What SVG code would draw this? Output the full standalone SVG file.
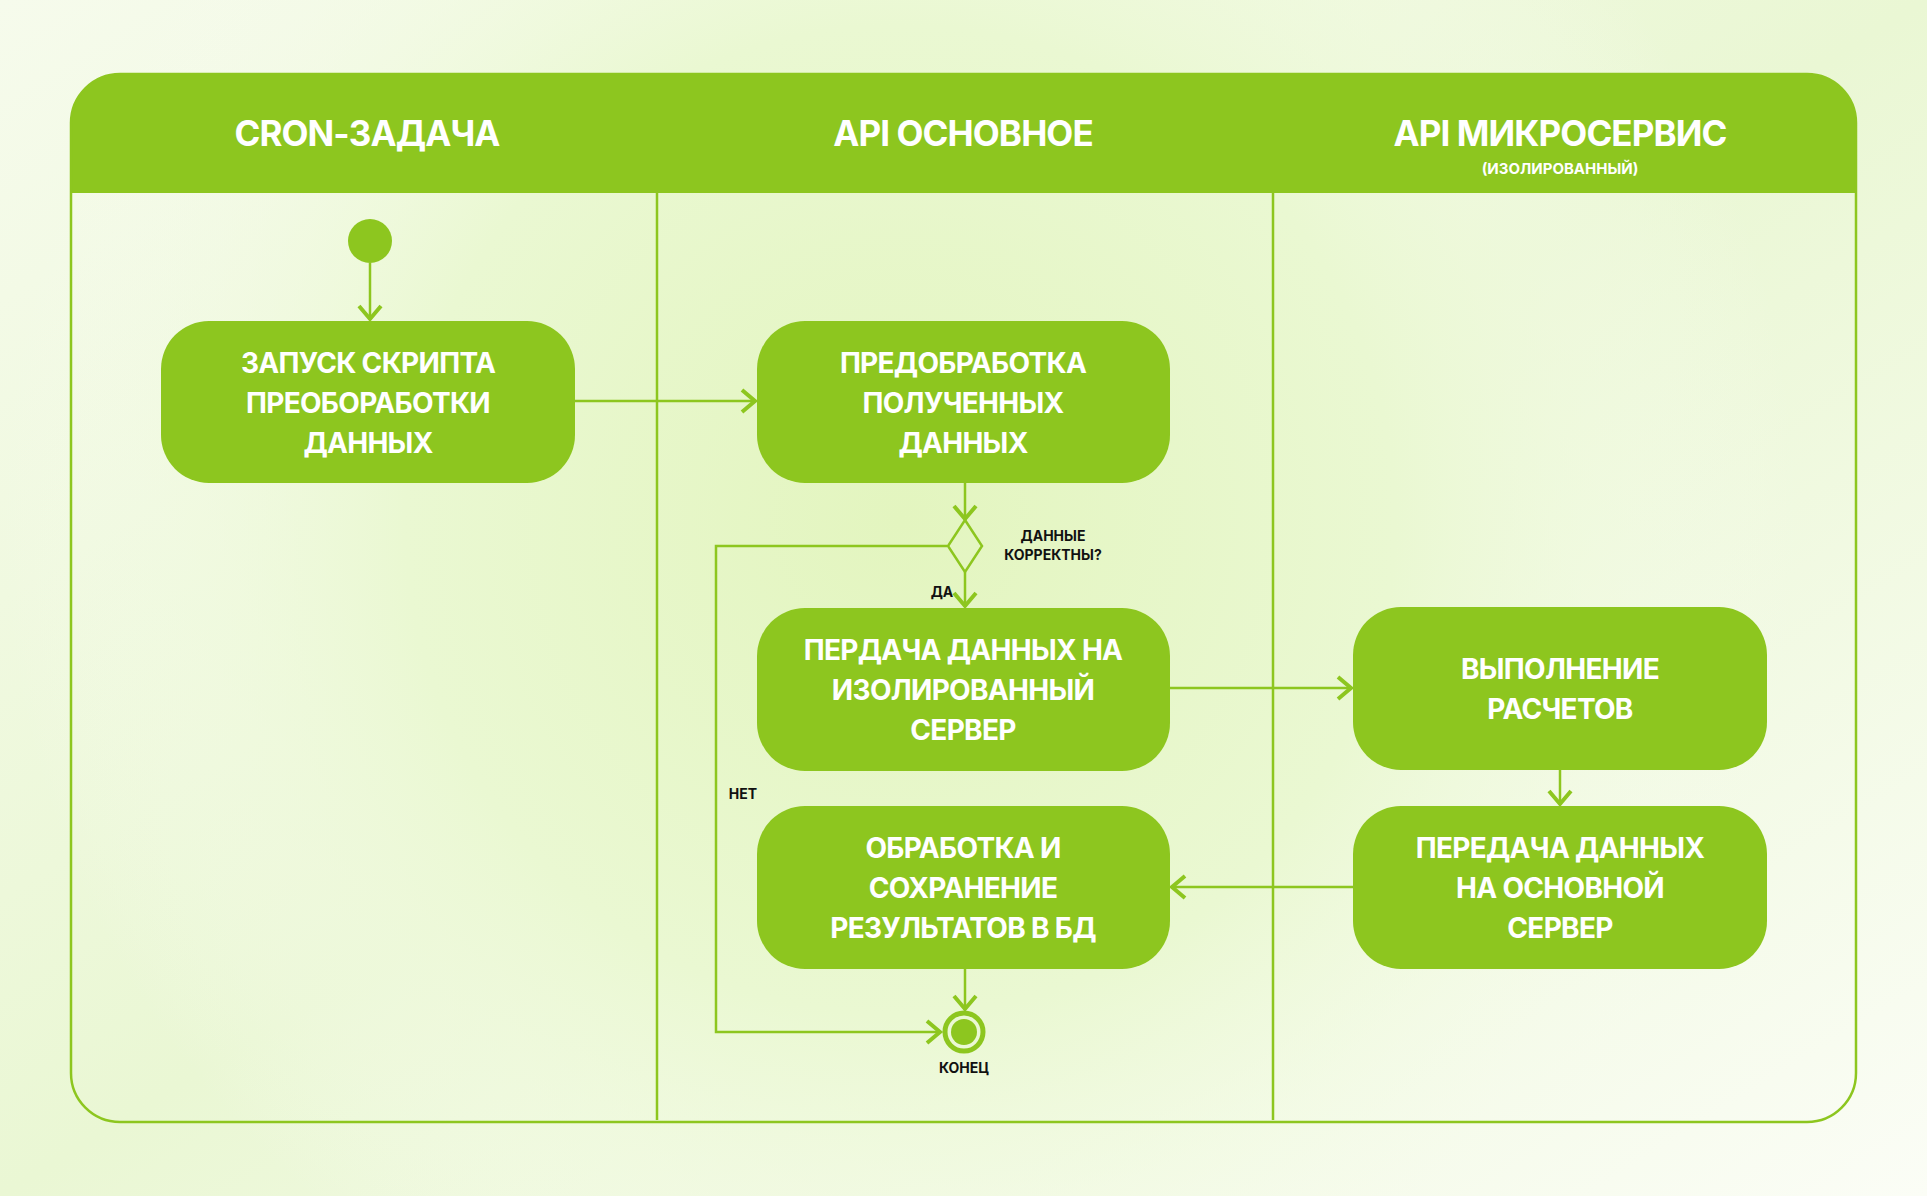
<svg xmlns="http://www.w3.org/2000/svg" width="1927" height="1196" viewBox="0 0 1927 1196">
<defs>
<radialGradient id="bg1" cx="900" cy="520" r="900" gradientUnits="userSpaceOnUse">
<stop offset="0" stop-color="#e3f5bf"/>
<stop offset="0.55" stop-color="#eaf8d2"/>
<stop offset="1" stop-color="#f8fcf0" stop-opacity="0"/>
</radialGradient>
<linearGradient id="bg0" x1="0" y1="0" x2="1" y2="1">
<stop offset="0" stop-color="#f6fbec"/>
<stop offset="0.5" stop-color="#eaf7d4"/>
<stop offset="1" stop-color="#fbfdf6"/>
</linearGradient>
<marker id="arr" markerUnits="userSpaceOnUse" viewBox="0 0 26 26" markerWidth="26" markerHeight="26" refX="22" refY="13" orient="auto">
<path d="M8,2 L21,13 L8,24" fill="none" stroke="#8dc61f" stroke-width="4" stroke-linejoin="miter"/>
</marker>
<style>
.node{fill:#8dc61f}
.nt{font-family:Inter,"Noto Sans",sans-serif;font-weight:700;font-size:28px;letter-spacing:-0.7px;fill:#ffffff;text-anchor:middle}
.ht{font-family:Inter,"Noto Sans",sans-serif;font-weight:700;font-size:35px;letter-spacing:-0.9px;fill:#ffffff;text-anchor:middle}
.hs{font-family:Inter,"Noto Sans",sans-serif;font-weight:700;font-size:15px;fill:#ffffff;text-anchor:middle}
.lb{font-family:Inter,"Noto Sans",sans-serif;font-weight:700;font-size:14px;fill:#111111;text-anchor:middle}
.ln{fill:none;stroke:#8dc61f;stroke-width:2.5}
.cn{fill:none;stroke:#8dc61f;stroke-width:2.5}
</style>
</defs>
<rect x="0" y="0" width="1927" height="1196" fill="url(#bg0)"/>
<rect x="0" y="0" width="1927" height="1196" fill="url(#bg1)"/>

<g id="frame">
<path d="M71,193 V123 A49,49 0 0 1 120,74 H1807 A49,49 0 0 1 1856,123 V193 Z" fill="#8dc61f"/>
<rect x="71" y="74" width="1785" height="1048" rx="49" class="ln"/>
<line x1="657" y1="193" x2="657" y2="1120" class="ln"/>
<line x1="1273" y1="193" x2="1273" y2="1120" class="ln"/>
<text class="ht" x="367" y="146">CRON-ЗАДАЧА</text>
<text class="ht" x="963" y="146">API ОСНОВНОЕ</text>
<text class="ht" x="1560" y="146">API МИКРОСЕРВИС</text>
<text class="hs" x="1560" y="174">(ИЗОЛИРОВАННЫЙ)</text>
</g>

<g id="connectors">
<line class="cn" x1="370" y1="263" x2="370" y2="320" marker-end="url(#arr)"/>
<line class="cn" x1="575" y1="401" x2="756" y2="401" marker-end="url(#arr)"/>
<line class="cn" x1="965" y1="483" x2="965" y2="520" marker-end="url(#arr)"/>
<line class="cn" x1="965" y1="572" x2="965" y2="607" marker-end="url(#arr)"/>
<line class="cn" x1="1170" y1="688" x2="1352" y2="688" marker-end="url(#arr)"/>
<line class="cn" x1="1560" y1="770" x2="1560" y2="805" marker-end="url(#arr)"/>
<line class="cn" x1="1353" y1="887" x2="1171" y2="887" marker-end="url(#arr)"/>
<line class="cn" x1="965" y1="969" x2="965" y2="1010" marker-end="url(#arr)"/>
<polyline class="cn" points="947,546 716,546 716,1032 941,1032" marker-end="url(#arr)"/>
<text class="lb" x="942" y="597">ДА</text>
<text class="lb" x="743" y="799">НЕТ</text>
</g>

<g id="start"><circle cx="370" cy="241" r="22" fill="#8dc61f"/></g>

<g id="n1">
<rect class="node" x="161" y="321" width="414" height="162" rx="48"/>
<text class="nt" x="368" y="373">ЗАПУСК СКРИПТА</text>
<text class="nt" x="368" y="413">ПРЕОБОРАБОТКИ</text>
<text class="nt" x="368" y="453">ДАННЫХ</text>
</g>

<g id="n2">
<rect class="node" x="757" y="321" width="413" height="162" rx="48"/>
<text class="nt" x="963" y="373">ПРЕДОБРАБОТКА</text>
<text class="nt" x="963" y="413">ПОЛУЧЕННЫХ</text>
<text class="nt" x="963" y="453">ДАННЫХ</text>
</g>

<g id="decision">
<polygon points="965,520 982,546 965,572 948,546" fill="none" stroke="#8dc61f" stroke-width="2.5"/>
<text class="lb" x="1053" y="541">ДАННЫЕ</text>
<text class="lb" x="1053" y="560">КОРРЕКТНЫ?</text>
</g>

<g id="n3">
<rect class="node" x="757" y="608" width="413" height="163" rx="48"/>
<text class="nt" x="963" y="660">ПЕРДАЧА ДАННЫХ НА</text>
<text class="nt" x="963" y="700">ИЗОЛИРОВАННЫЙ</text>
<text class="nt" x="963" y="740">СЕРВЕР</text>
</g>

<g id="n4">
<rect class="node" x="1353" y="607" width="414" height="163" rx="48"/>
<text class="nt" x="1560" y="679">ВЫПОЛНЕНИЕ</text>
<text class="nt" x="1560" y="719">РАСЧЕТОВ</text>
</g>

<g id="n5">
<rect class="node" x="1353" y="806" width="414" height="163" rx="48"/>
<text class="nt" x="1560" y="858">ПЕРЕДАЧА ДАННЫХ</text>
<text class="nt" x="1560" y="898">НА ОСНОВНОЙ</text>
<text class="nt" x="1560" y="938">СЕРВЕР</text>
</g>

<g id="n6">
<rect class="node" x="757" y="806" width="413" height="163" rx="48"/>
<text class="nt" x="963" y="858">ОБРАБОТКА И</text>
<text class="nt" x="963" y="898">СОХРАНЕНИЕ</text>
<text class="nt" x="963" y="938">РЕЗУЛЬТАТОВ В БД</text>
</g>

<g id="end">
<circle cx="964" cy="1032" r="19" fill="none" stroke="#8dc61f" stroke-width="5"/>
<circle cx="964" cy="1032" r="13" fill="#8dc61f"/>
<text class="lb" x="964" y="1073">КОНЕЦ</text>
</g>
</svg>
